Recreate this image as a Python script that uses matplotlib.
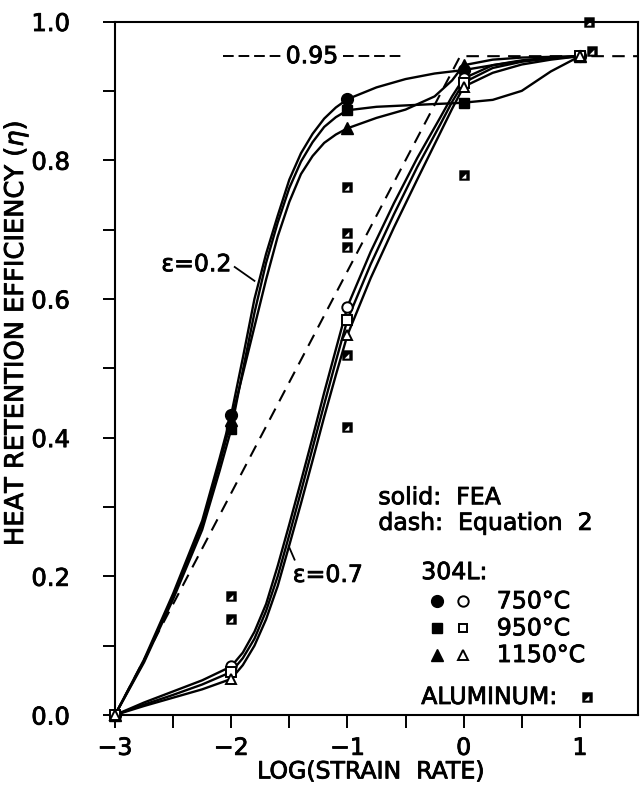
import matplotlib
matplotlib.use("Agg")
import matplotlib.pyplot as plt
import matplotlib.patheffects as pe
import numpy as np
from matplotlib.path import Path

plt.rcParams['font.family'] = ['DejaVu Sans']

# measured points (log strain rate vs heat retention efficiency)
strain = [-3, -2, -1, 0, 1]
e02_750 = [0, 0.433, 0.888, 0.930, 0.95]
e02_950 = [0, 0.412, 0.872, 0.883, 0.95]
e02_1150 = [0, 0.425, 0.846, 0.937, 0.95]
e07_750 = [0, 0.070, 0.589, 0.918, 0.95]
e07_950 = [0, 0.062, 0.570, 0.912, 0.95]
e07_1150 = [0, 0.052, 0.548, 0.906, 0.95]

al_x = [-2, -2, -1, -1, -1, -1, -1, 0, 1.08, 1.10]
al_y = [0.172, 0.139, 0.762, 0.695, 0.675, 0.519, 0.416, 0.779, 1.0, 0.957]

# FEA curves
c02_x = [-3, -2.75, -2.5, -2.25, -2.1, -2, -1.9, -1.8, -1.7, -1.6, -1.5, -1.4, -1.3,
         -1.2, -1.1, -1, -0.75, -0.5, -0.25, -0.1, 0, 0.25, 0.5, 0.75, 1]
c02_750 = [0, 0.08, 0.175, 0.28, 0.37, 0.433, 0.515, 0.6, 0.665, 0.72, 0.772, 0.81, 0.838,
           0.86, 0.876, 0.888, 0.905, 0.917, 0.925, 0.928, 0.930, 0.937, 0.943, 0.947, 0.95]
c02_950 = [0, 0.076, 0.167, 0.267, 0.352, 0.412, 0.497, 0.58, 0.652, 0.71, 0.76, 0.798, 0.826,
           0.848, 0.862, 0.872, 0.877, 0.879, 0.881, 0.882, 0.883, 0.887, 0.9, 0.928, 0.95]
c02_1150 = [0, 0.078, 0.171, 0.274, 0.362, 0.425, 0.492, 0.56, 0.628, 0.69, 0.74, 0.78, 0.806,
            0.825, 0.837, 0.846, 0.861, 0.873, 0.892, 0.915, 0.937, 0.945, 0.948, 0.949, 0.95]

c07_x = [-3, -2.75, -2.5, -2.25, -2, -1.9, -1.8, -1.7, -1.6, -1.5, -1.4, -1.3, -1.2,
         -1.1, -1, -0.8, -0.6, -0.4, -0.2, -0.1, 0, 0.25, 0.5, 0.75, 1]
c07_750 = [0, 0.018, 0.034, 0.05, 0.07, 0.09, 0.12, 0.16, 0.215, 0.275, 0.337, 0.4, 0.465,
           0.527, 0.589, 0.668, 0.738, 0.803, 0.862, 0.892, 0.918, 0.937, 0.944, 0.948, 0.95]
c07_950 = [0, 0.015, 0.029, 0.044, 0.062, 0.082, 0.11, 0.15, 0.2, 0.26, 0.322, 0.385, 0.448,
           0.51, 0.57, 0.65, 0.722, 0.79, 0.852, 0.884, 0.912, 0.933, 0.942, 0.947, 0.95]
c07_1150 = [0, 0.013, 0.025, 0.037, 0.052, 0.072, 0.1, 0.138, 0.186, 0.245, 0.305, 0.367, 0.43,
            0.49, 0.548, 0.63, 0.703, 0.772, 0.84, 0.874, 0.906, 0.926, 0.938, 0.945, 0.95]

# Equation 2 (dashed), levels off at 0.95
eq_x = [-3, -2.5, -2, -1.5, -1, -0.5, -0.03, 1.5]
eq_y = [0, 0.16, 0.32, 0.48, 0.64, 0.80, 0.95, 0.95]

# aluminum marker: black square with a small white triangle
al_marker = Path([(-1, -1), (1, -1), (1, 1), (-1, 1), (-1, -1),
                  (-0.55, -0.6), (0.35, 0.3), (0.35, -0.6), (-0.55, -0.6)],
                 [Path.MOVETO, Path.LINETO, Path.LINETO, Path.LINETO, Path.CLOSEPOLY,
                  Path.MOVETO, Path.LINETO, Path.LINETO, Path.CLOSEPOLY])

heavy = [pe.withStroke(linewidth=0.6, foreground='k')]

fig = plt.figure(figsize=(6.42, 7.85), dpi=100)
ax = fig.add_axes([115/642, 1-715/785, 523/642, 693.5/785])

lw = 1.7
for yy in (c02_750, c02_950, c02_1150):
    ax.plot(c02_x, yy, color='k', lw=lw, zorder=2)
for yy in (c07_750, c07_950, c07_1150):
    ax.plot(c07_x, yy, color='k', lw=lw, zorder=2)
ax.plot(eq_x, eq_y, color='k', lw=1.5, ls=(0, (6, 4)), zorder=2)

# 0.95 label line
ax.plot([-2.07, -1.57], [0.95, 0.95], color='k', lw=1.4, ls=(0, (5.5, 2.5)))
ax.plot([-1.04, -0.54], [0.95, 0.95], color='k', lw=1.4, ls=(0, (5.5, 2.5)))
ax.text(-1.305, 0.95, '0.95', ha='center', va='center', fontsize=17, path_effects=heavy)

# markers
ms = 8.5
ax.plot(strain, e02_750, 'o', color='k', ms=ms, zorder=4, clip_on=False)
ax.plot(strain, e02_950, 's', color='k', ms=ms-1.5, zorder=4, clip_on=False)
ax.plot(strain, e02_1150, '^', color='k', ms=ms, zorder=4, clip_on=False)
ax.plot(strain, e07_750, 'o', mfc='white', mec='k', mew=1.4, ms=ms-1, zorder=4, clip_on=False)
ax.plot(strain, e07_950, 's', mfc='white', mec='k', mew=1.4, ms=ms-2, zorder=4, clip_on=False)
ax.plot(strain, e07_1150, '^', mfc='white', mec='k', mew=1.4, ms=ms-1, zorder=4, clip_on=False)
ax.plot(al_x, al_y, ls='none', marker=al_marker, color='k', mew=0, ms=7.5, zorder=5, clip_on=False)

# annotations
ax.text(-2.0, 0.650, 'ε=0.2', ha='right', va='center', fontsize=17, path_effects=heavy)
ax.plot([-1.97, -1.80], [0.646, 0.626], color='k', lw=1.3)
ax.text(-1.47, 0.202, 'ε=0.7', ha='left', va='center', fontsize=17, path_effects=heavy)
ax.plot([-1.504, -1.455], [0.243, 0.224], color='k', lw=1.3)

ax.text(-0.734, 0.314, 'solid:  FEA', ha='left', va='center', fontsize=17, path_effects=heavy)
ax.text(-0.734, 0.277, 'dash:  Equation  2', ha='left', va='center', fontsize=17,
        path_effects=heavy)
ax.text(-0.365, 0.206, '304L:', ha='left', va='center', fontsize=17, path_effects=heavy)
rows_y = [0.164, 0.125, 0.0865]
rows_lbl = ['750°C', '950°C', '1150°C']
rows_mk = ['o', 's', '^']
for ry, rl, rm in zip(rows_y, rows_lbl, rows_mk):
    s = ms - 1.5 if rm == 's' else ms
    ax.plot([-0.232], [ry], rm, color='k', ms=s)
    ax.plot([-0.010], [ry], rm, mfc='white', mec='k', mew=1.4, ms=s - 1)
    ax.text(0.285, ry, rl, ha='left', va='center', fontsize=17, path_effects=heavy)
ax.text(-0.365, 0.026, 'ALUMINUM:', ha='left', va='center', fontsize=17, path_effects=heavy)
ax.plot([1.063], [0.026], ls='none', marker=al_marker, color='k', mew=0, ms=7.5)

ax.set_xlim(-3, 1.5)
ax.set_ylim(0, 1.0)
ax.set_xticks([-3, -2, -1, 0, 1])
ax.set_xticks([-2.5, -1.5, -0.5, 0.5], minor=True)
ax.set_yticks([0, 0.2, 0.4, 0.6, 0.8, 1.0])
ax.set_yticklabels(['0.0', '0.2', '0.4', '0.6', '0.8', '1.0'])
ax.set_yticks([0.1, 0.3, 0.5, 0.7, 0.9], minor=True)
ax.tick_params(axis='both', which='both', direction='out', length=9, width=1.4)
ax.tick_params(axis='x', which='both', pad=6, labelsize=17)
ax.tick_params(axis='y', which='both', pad=23.4, labelsize=17.5)
for lab in ax.get_xticklabels() + ax.get_yticklabels():
    lab.set_path_effects(heavy)
for sp in ax.spines.values():
    sp.set_linewidth(1.5)

ax.set_xlabel('LOG(STRAIN  RATE)', fontsize=17, path_effects=heavy)
ax.xaxis.set_label_coords(0.49, -0.064)
ax.set_ylabel(r'HEAT RETENTION EFFICIENCY ($\eta$)', fontsize=18.5, path_effects=heavy)
ax.yaxis.set_label_coords(-0.1606, 0.551)

fig.savefig('out.png', dpi=100)
